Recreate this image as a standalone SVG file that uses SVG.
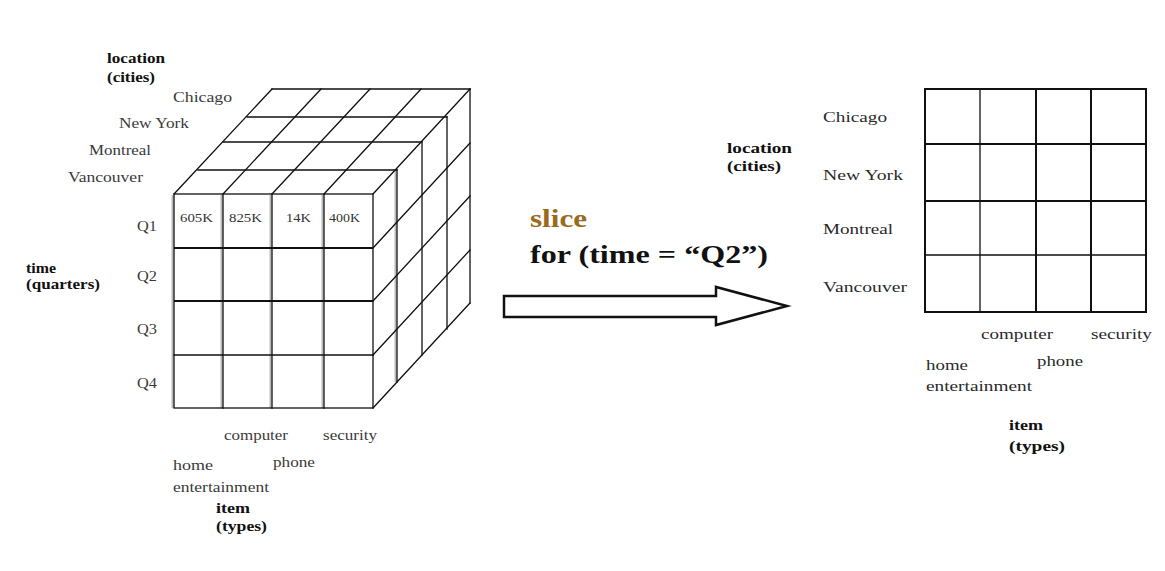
<svg xmlns="http://www.w3.org/2000/svg" width="1165" height="571" viewBox="0 0 1165 571">
<style>
  .ln{stroke:#111;stroke-width:1.3;fill:none;stroke-linecap:square}
  .thk{stroke:#111;stroke-width:2;fill:none}
  .sh{stroke:#b8b8b8;stroke-width:2;fill:none}
  .lab{font-family:"Liberation Serif","Times New Roman",serif;font-size:14px;fill:#3a3a3a}
  .rlab{font-family:"Liberation Serif","Times New Roman",serif;font-size:15px;fill:#2a2a2a}
  .val{font-family:"Liberation Serif","Times New Roman",serif;font-size:12px;fill:#333}
  .ax{font-family:"Liberation Serif","Times New Roman",serif;font-size:14px;font-weight:bold;fill:#111}
  .big{font-family:"Liberation Serif","Times New Roman",serif;font-size:25px;font-weight:bold}
</style>
<rect width="1165" height="571" fill="#fff"/>

<g id="cube">
  <!-- gray shading next to front verticals -->
  <path class="sh" d="M172.5 195V408M221.5 195V408M270.5 195V408M322.5 195V408M395.5 171V382"/>
  <!-- front face -->
  <rect class="ln" x="174" y="194" width="199" height="214"/>
  <path class="ln" d="M223 194V408M272 194V408M324 194V408M174 355H373"/>
  <path class="thk" d="M174 248H373M174 301H373"/>
  <!-- top face -->
  <path class="ln" d="M272 89H470M247 117H447M223 142H422M198 170H397"/>
  <path class="ln" d="M174 194L272 89M223 194L321 89M272 194L370 89M324 194L421 89M373 194L470 89"/>
  <!-- right face -->
  <path class="ln" d="M397 170V382M422 142V355M447 117V329M470 89V303"/>
  <path class="ln" d="M373 248L470 143M373 301L470 196M373 355L470 250M373 408L470 303"/>
  <!-- values -->
  <text class="val" x="180" y="222" textLength="33" lengthAdjust="spacingAndGlyphs">605K</text>
  <text class="val" x="229" y="222" textLength="33" lengthAdjust="spacingAndGlyphs">825K</text>
  <text class="val" x="286" y="222" textLength="25" lengthAdjust="spacingAndGlyphs">14K</text>
  <text class="val" x="329" y="222" textLength="31" lengthAdjust="spacingAndGlyphs">400K</text>
</g>

<g id="cube-location-labels">
  <text class="ax" x="107" y="63" textLength="58" lengthAdjust="spacingAndGlyphs">location</text>
  <text class="ax" x="107" y="82" textLength="48" lengthAdjust="spacingAndGlyphs">(cities)</text>
  <text class="lab" x="173" y="102" textLength="59" lengthAdjust="spacingAndGlyphs">Chicago</text>
  <text class="lab" x="119" y="128" textLength="70" lengthAdjust="spacingAndGlyphs">New York</text>
  <text class="lab" x="89" y="155" textLength="62" lengthAdjust="spacingAndGlyphs">Montreal</text>
  <text class="lab" x="68" y="182" textLength="75" lengthAdjust="spacingAndGlyphs">Vancouver</text>
</g>

<g id="cube-time-labels">
  <text class="ax" x="26" y="273" textLength="30" lengthAdjust="spacingAndGlyphs">time</text>
  <text class="ax" x="26" y="289" textLength="74" lengthAdjust="spacingAndGlyphs">(quarters)</text>
  <text class="lab" x="137" y="231" font-size="15" textLength="20" lengthAdjust="spacingAndGlyphs">Q1</text>
  <text class="lab" x="137" y="281" font-size="15" textLength="20" lengthAdjust="spacingAndGlyphs">Q2</text>
  <text class="lab" x="137" y="334" font-size="15" textLength="20" lengthAdjust="spacingAndGlyphs">Q3</text>
  <text class="lab" x="137" y="388" font-size="15" textLength="20" lengthAdjust="spacingAndGlyphs">Q4</text>
</g>

<g id="cube-item-labels">
  <text class="lab" x="224" y="440" textLength="64" lengthAdjust="spacingAndGlyphs">computer</text>
  <text class="lab" x="323" y="440" textLength="54" lengthAdjust="spacingAndGlyphs">security</text>
  <text class="lab" x="173" y="470" textLength="40" lengthAdjust="spacingAndGlyphs">home</text>
  <text class="lab" x="273" y="467" textLength="42" lengthAdjust="spacingAndGlyphs">phone</text>
  <text class="lab" x="173" y="492" textLength="96" lengthAdjust="spacingAndGlyphs">entertainment</text>
  <text class="ax" x="216" y="513" textLength="34" lengthAdjust="spacingAndGlyphs">item</text>
  <text class="ax" x="216" y="531" textLength="51" lengthAdjust="spacingAndGlyphs">(types)</text>
</g>

<g id="connectors">
  <path d="M504 296H716V287L787 306L716 325V317H504Z" fill="#fff" stroke="#111" stroke-width="2.5" stroke-linejoin="miter"/>
</g>

<g id="slice-label">
  <text class="big" x="530" y="227" fill="#9a6a1e" textLength="57" lengthAdjust="spacingAndGlyphs">slice</text>
  <text class="big" x="530" y="263" fill="#111" textLength="238" lengthAdjust="spacingAndGlyphs">for (time = “Q2”)</text>
</g>

<g id="slice-grid">
  <rect x="925" y="89" width="221" height="223" fill="none" stroke="#111" stroke-width="2"/>
  <path class="ln" d="M980 89V312M925 255H1146"/>
  <path class="thk" d="M1036 89V312M1091 89V312M925 144H1146M925 201H1146"/>
</g>

<g id="grid-location-labels">
  <text class="ax" x="727" y="153" font-size="15" textLength="65" lengthAdjust="spacingAndGlyphs">location</text>
  <text class="ax" x="727" y="171" font-size="15" textLength="54" lengthAdjust="spacingAndGlyphs">(cities)</text>
  <text class="rlab" x="823" y="122" textLength="64" lengthAdjust="spacingAndGlyphs">Chicago</text>
  <text class="rlab" x="823" y="180" textLength="80" lengthAdjust="spacingAndGlyphs">New York</text>
  <text class="rlab" x="823" y="234" textLength="70" lengthAdjust="spacingAndGlyphs">Montreal</text>
  <text class="rlab" x="823" y="292" textLength="84" lengthAdjust="spacingAndGlyphs">Vancouver</text>
</g>

<g id="grid-item-labels">
  <text class="rlab" x="981" y="339" textLength="72" lengthAdjust="spacingAndGlyphs">computer</text>
  <text class="rlab" x="1091" y="339" textLength="61" lengthAdjust="spacingAndGlyphs">security</text>
  <text class="rlab" x="926" y="370" textLength="42" lengthAdjust="spacingAndGlyphs">home</text>
  <text class="rlab" x="1037" y="366" textLength="46" lengthAdjust="spacingAndGlyphs">phone</text>
  <text class="rlab" x="926" y="391" textLength="106" lengthAdjust="spacingAndGlyphs">entertainment</text>
  <text class="ax" x="1009" y="430" font-size="15" textLength="34" lengthAdjust="spacingAndGlyphs">item</text>
  <text class="ax" x="1009" y="451" font-size="15" textLength="56" lengthAdjust="spacingAndGlyphs">(types)</text>
</g>
</svg>
